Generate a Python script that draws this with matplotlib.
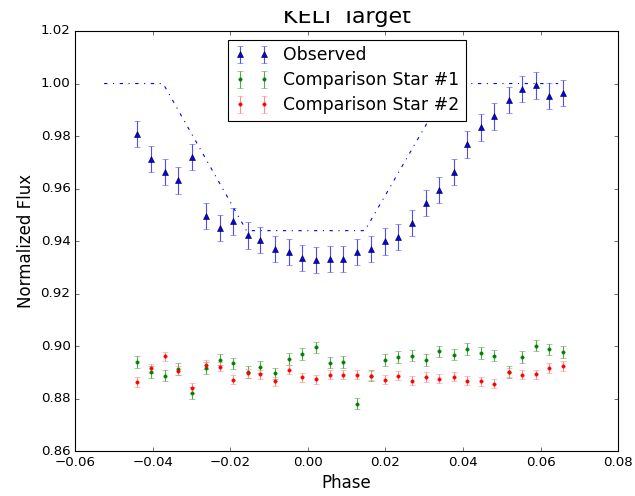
import matplotlib
matplotlib.use("Agg")
import matplotlib.pyplot as plt
from matplotlib.transforms import Bbox

plt.style.use("classic")

phase = [-0.0440, -0.0404, -0.0367, -0.0334, -0.0298, -0.0262, -0.0227, -0.0192,
         -0.0155, -0.0122, -0.0085, -0.0049, -0.0015, 0.0021, 0.0056, 0.0091,
         0.0126, 0.0162, 0.0199, 0.0233, 0.0268, 0.0304, 0.0339, 0.0376,
         0.0411, 0.0445, 0.0480, 0.0518, 0.0551, 0.0588, 0.0622, 0.0657]

observed = [0.9809, 0.9713, 0.9663, 0.9631, 0.9720, 0.9495, 0.9450, 0.9475,
            0.9422, 0.9405, 0.9370, 0.9358, 0.9336, 0.9329, 0.9332, 0.9331,
            0.9358, 0.9370, 0.9399, 0.9415, 0.9468, 0.9546, 0.9595, 0.9663,
            0.9768, 0.9833, 0.9875, 0.9936, 0.9978, 0.9993, 0.9952, 0.9965]

comp1 = [0.8941, 0.8901, 0.8888, 0.8913, 0.8822, 0.8917, 0.8949, 0.8935,
         0.8901, 0.8922, 0.8897, 0.8952, 0.8971, 0.8996, 0.8938, 0.8940,
         0.8782, 0.8888, 0.8948, 0.8958, 0.8964, 0.8948, 0.8980, 0.8968,
         0.8990, 0.8974, 0.8964, 0.8901, 0.8958, 0.9002, 0.8988, 0.8977]

comp2 = [0.8863, 0.8916, 0.8961, 0.8907, 0.8841, 0.8930, 0.8922, 0.8873,
         0.8897, 0.8893, 0.8866, 0.8911, 0.8881, 0.8874, 0.8892, 0.8892,
         0.8892, 0.8888, 0.8873, 0.8888, 0.8869, 0.8883, 0.8877, 0.8884,
         0.8869, 0.8866, 0.8858, 0.8901, 0.8892, 0.8893, 0.8917, 0.8925]

obs_err = 0.0050
comp1_err = 0.0022
comp2_err = 0.0018

# transit model (trapezoid)
model_phase = [-0.0525, -0.0373, -0.0158, 0.0147, 0.0366, 0.0645]
model_flux = [1.000, 1.000, 0.944, 0.944, 1.000, 1.000]

fig = plt.figure(figsize=(635 / 80, 496 / 80), dpi=80)
ax = fig.add_axes([0.1181, 0.0901, 0.9737 - 0.1181, 0.9375 - 0.0901])

ax.plot(model_phase, model_flux, "b-.")
ax.errorbar(phase, observed, yerr=obs_err, fmt="^", color="b", ecolor=(0.3, 0.3, 1.0),
            markersize=5, label="Observed")
ax.errorbar(phase, comp1, yerr=comp1_err, fmt="o", color="g", ecolor=(0.35, 0.65, 0.35),
            markersize=3, markeredgecolor="g", label="Comparison Star #1")
ax.errorbar(phase, comp2, yerr=comp2_err, fmt="o", color="r", ecolor=(1.0, 0.55, 0.55),
            markersize=3, markeredgecolor="r", label="Comparison Star #2")

ax.set_xlim(-0.06, 0.08)
ax.set_ylim(0.86, 1.02)
ax.set_xlabel("Phase", fontsize=15)
ax.set_ylabel("Normalized Flux", fontsize=15)
title = ax.set_title("KELT Target", fontsize=20, pad=7)
# top of the title is cut off in the original
title.set_clip_box(Bbox.from_extents(0, 0, 635, 485))
title.set_clip_on(True)
ax.legend(loc="upper center", fontsize=15.5, labelspacing=0.4)

fig.savefig("out.png", dpi=80)
